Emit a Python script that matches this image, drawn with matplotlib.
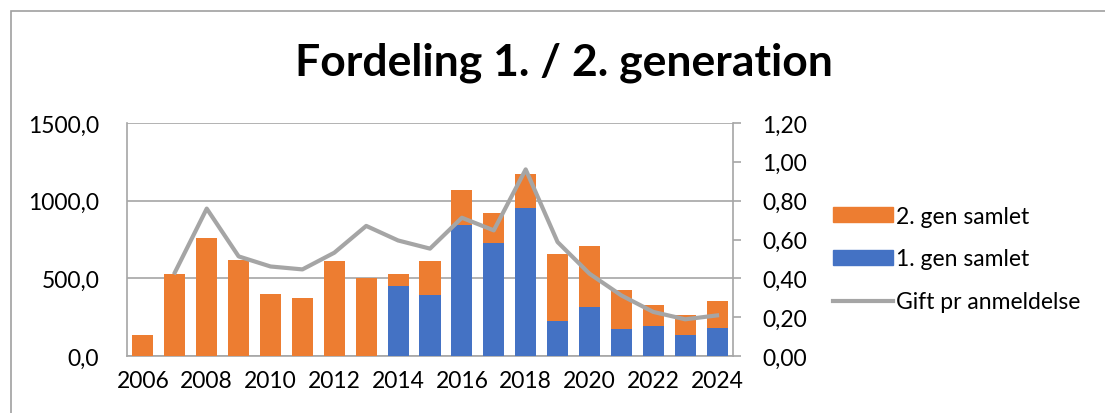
import matplotlib
matplotlib.use("Agg")
import matplotlib.pyplot as plt
import matplotlib.patches as mpatches
import numpy as np

years = list(range(2006, 2025))
gen1 = [0, 0, 0, 0, 0, 0, 0, 0, 452, 393, 846, 728, 955, 224, 318, 173, 190, 132, 179]
total = [132, 528, 760, 619, 401, 374, 611, 502, 528, 611, 1066, 923, 1169, 658, 709, 427, 329, 265, 357]
gen2 = [t - g for t, g in zip(total, gen1)]
gift = [np.nan, 0.43, 0.759, 0.513, 0.461, 0.446, 0.532, 0.670, 0.595, 0.553, 0.712, 0.647, 0.961,
        0.587, 0.424, 0.312, 0.227, 0.189, 0.209]
xlabels = [str(y) if (y - 2006) % 2 == 0 else "" for y in years]

BLUE = "#4472C4"
ORANGE = "#ED7D31"
GRAY = "#A5A5A5"
AX = "#A6A6A6"
FONT = "Lato"
FS = 16.5

plt.rcParams["font.family"] = [FONT, "DejaVu Sans"]

fig = plt.figure(figsize=(11.05, 4.14), dpi=100)
ax = fig.add_axes([127 / 1105, 1 - 357 / 414, (733 - 127) / 1105, (357 - 124) / 414])
x = np.arange(len(years))
ax.bar(x, gen1, width=0.66, color=BLUE, zorder=3, label="1. gen samlet")
ax.bar(x, gen2, bottom=gen1, width=0.66, color=ORANGE, zorder=3, label="2. gen samlet")
ax.set_xlim(-0.5, len(years) - 0.5)
ax.set_ylim(0, 1500)
ax.set_yticks([0, 500, 1000, 1500])
ax.set_yticklabels(["0,0", "500,0", "1000,0", "1500,0"])
ax.set_xticks(x)
ax.set_xticklabels(xlabels)
ax.yaxis.grid(True, color=AX, linewidth=1.2, zorder=0)
ax.set_axisbelow(True)
for s in ["top", "right"]:
    ax.spines[s].set_visible(False)
for s in ["left", "bottom"]:
    ax.spines[s].set_color(AX)
    ax.spines[s].set_linewidth(1.2)
ax.tick_params(axis="both", length=0, labelsize=FS, colors="#000000")
ax.tick_params(axis="y", pad=20)
ax.tick_params(axis="x", pad=10)

ax2 = ax.twinx()
ax2.plot(x, gift, color=GRAY, linewidth=3, zorder=4, label="Gift pr anmeldelse")
ax2.set_ylim(0, 1.2)
ax2.set_yticks(np.arange(0, 1.21, 0.2))
ax2.set_yticklabels([f"{v:.2f}".replace(".", ",") for v in np.arange(0, 1.21, 0.2)])
for s in ["top", "left", "bottom"]:
    ax2.spines[s].set_visible(False)
ax2.spines["right"].set_color(AX)
ax2.spines["right"].set_linewidth(1.2)
ax2.tick_params(axis="y", length=6, width=1.2, color=AX, labelsize=FS, pad=15, direction="out")

fig.text(0.51, 1 - 63 / 414, "Fordeling 1. / 2. generation", ha="center", va="center",
         fontsize=32, fontweight="bold")

handles = [mpatches.Patch(color=ORANGE), mpatches.Patch(color=BLUE),
           plt.Line2D([], [], color=GRAY, linewidth=3)]
labels = ["2. gen samlet", "1. gen samlet", "Gift pr anmeldelse"]
fig.legend(handles, labels, loc="center left", bbox_to_anchor=(833 / 1105, 1 - 260 / 414),
           frameon=False, fontsize=FS, handlelength=2.6, handleheight=0.6,
           handletextpad=0.15, labelspacing=0.95, borderaxespad=0, borderpad=0)

border = mpatches.Rectangle((11 / 1105, -0.1), 1.2, 1 - 11.5 / 414 + 0.1, transform=fig.transFigure,
                            fill=False, edgecolor="#A0A0A0", linewidth=1.2)
fig.add_artist(border)

fig.savefig("out.png", dpi=100)
